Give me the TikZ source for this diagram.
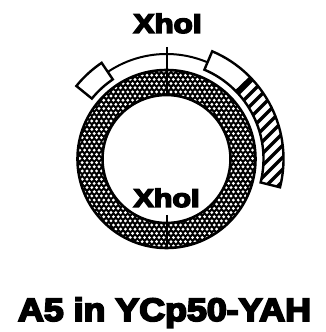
\documentclass[tikz,border=0pt]{standalone}
\usepackage{fontspec}
\usepackage{graphicx}
\newfontfamily\labfont[FakeBold=5.5]{Liberation Sans Bold}
\tikzset{
  ringline/.style={line width=2.6pt},
  boxline/.style={line width=2.4pt},
  arcline/.style={line width=2pt},
  tickline/.style={line width=2pt},
  hatchline/.style={line width=3.2pt},
  lab/.style={inner sep=0pt, anchor=base}
}
\begin{document}
\begin{tikzpicture}[x=1pt,y=1pt]
\useasboundingbox (0,0) rectangle (325,332);
\coordinate (c) at (166.5,173);
% stippled ring
\begin{scope}
  \clip (c) circle (89);
  \fill[black] (c) circle (90);
  \foreach \j in {0,...,44} {
    \foreach \i in {0,...,38} {
      \fill[white] ({75+\i*4.8+mod(\j,2)*2.4},{82+\j*4.16}) circle (1.6);
    }
  }
\end{scope}
\fill[white] (c) circle (64);
\draw[ringline] (c) circle (89);
\draw[ringline] (c) circle (64);
% thin arc
\draw[arcline] ([shift={(67:105)}]c) arc[start angle=67, end angle=124, radius=105];
% left box
\draw[boxline, fill=white] ([shift={(124:96)}]c) arc[start angle=124, end angle=141, radius=96]
  -- ([shift={(141:116)}]c) arc[start angle=141, end angle=124, radius=116] -- cycle;
% right box
\fill[white] ([shift={(67:97)}]c) arc[start angle=67, end angle=-14, radius=97]
  -- ([shift={(-14:117)}]c) arc[start angle=-14, end angle=67, radius=117] -- cycle;
\begin{scope}
  \clip ([shift={(44:97)}]c) arc[start angle=44, end angle=-14, radius=97]
    -- ([shift={(-14:117)}]c) arc[start angle=-14, end angle=44, radius=117] -- cycle;
  \foreach \b in {-168,-156,...,72} {
    \draw[hatchline] (170,170+\b) -- (310,310+\b);
  }
\end{scope}
\draw[boxline] ([shift={(67:97)}]c) arc[start angle=67, end angle=-14, radius=97]
  -- ([shift={(-14:117)}]c) arc[start angle=-14, end angle=67, radius=117] -- cycle;
\draw[line width=3.5pt] ([shift={(44:97)}]c) -- ([shift={(44:117)}]c);
% XhoI sites
\node[lab] (xtop) at (167.5,299) {\resizebox{68pt}{19.5pt}{\fontsize{26}{26}\labfont XhoI}};
\node[lab] (xbot) at (166.5,125) {\resizebox{66pt}{18.5pt}{\fontsize{26}{26}\labfont XhoI}};
\coordinate (ttop) at (166.5,285);
\coordinate (ttopend) at (166.5,237);
\coordinate (tbot) at (166.5,117);
\coordinate (tbotend) at (166.5,84);
\draw[tickline] (ttop) -- (ttopend);
\draw[tickline] (tbot) -- (tbotend);
% title
\node[lab] (title) at (164.5,11) {\resizebox{293pt}{23.5pt}{\fontsize{33}{33}\labfont A5 in YCp50-YAH}};
\end{tikzpicture}
\end{document}
